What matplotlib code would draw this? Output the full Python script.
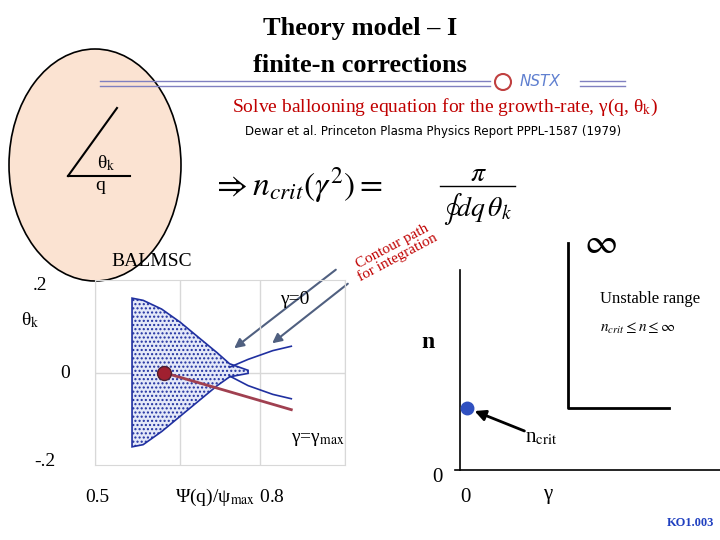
import matplotlib
matplotlib.use("Agg")
import matplotlib.pyplot as plt
from matplotlib.patches import Ellipse, FancyArrowPatch, Polygon
import numpy as np

plt.rcParams["mathtext.fontset"] = "stix"

# ---- data (schematic) ----
upper_x = [0.552, 0.57, 0.60, 0.63, 0.66, 0.69, 0.71, 0.74]
upper_y = [0.17, 0.165, 0.145, 0.115, 0.08, 0.045, 0.02, 0.005]
lower_x = [0.552, 0.57, 0.60, 0.63, 0.66, 0.69, 0.71, 0.74]
lower_y = [-0.17, -0.165, -0.135, -0.10, -0.065, -0.03, -0.01, -0.002]
branch_up_x = [0.71, 0.74, 0.78, 0.81]
branch_up_y = [0.012, 0.03, 0.05, 0.06]
branch_lo_x = [0.71, 0.74, 0.78, 0.81]
branch_lo_y = [-0.008, -0.03, -0.05, -0.06]
red_pt = (0.603, 0.0)
red_line_x = [0.603, 0.81]
red_line_y = [0.0, -0.085]

ncrit_pt = (0.0, 0.15)
unstable_x = [1.0, 1.0, 2.0]
unstable_y = [0.55, 0.15, 0.15]

fig = plt.figure(figsize=(7.2, 5.4), dpi=100)
ov = fig.add_axes([0, 0, 1, 1])
ov.set_xlim(0, 720); ov.set_ylim(540, 0); ov.axis("off")
serif = "Liberation Serif"

ov.text(360, 28, "Theory model – I", ha="center", va="center", fontsize=19, fontweight="bold", family=serif)
ov.text(360, 66, "finite-n corrections", ha="center", va="center", fontsize=19, fontweight="bold", family=serif)
for y in (81, 86):
    ov.plot([100, 490], [y, y], color="#8080c0", lw=1)
    ov.plot([580, 625], [y, y], color="#8080c0", lw=1)
ov.add_patch(Ellipse((503, 82), 16, 16, fill=False, ec="#c04040", lw=1.5))
ov.text(540, 82, "NSTX", ha="center", va="center", fontsize=11, color="#6080d0", style="italic")

ov.text(445, 107, r"Solve ballooning equation for the growth-rate, γ(q, θ$_\mathrm{k}$)",
        ha="center", va="center", fontsize=14, color="#c00000", family=serif)
ov.text(433, 131, "Dewar et al. Princeton Plasma Physics Report PPPL-1587 (1979)",
        ha="center", va="center", fontsize=8.5, family="Liberation Sans Narrow")

ov.add_patch(Ellipse((95, 165), 172, 232, fc="#fbe3d2", ec="black", lw=1.2))
ov.plot([117, 68], [108, 176], color="black", lw=1.5)
ov.plot([68, 130], [176, 176], color="black", lw=1.5)
ov.text(97, 163, r"θ$_\mathrm{k}$", fontsize=14, va="center", family=serif)
ov.text(100, 186, "q", fontsize=14, va="center", ha="center", family=serif)

ov.text(212, 185, r"$\Rightarrow n_{crit}(\gamma^2) = $", fontsize=24, va="center")
ov.text(478, 173, r"$\pi$", fontsize=20, ha="center", va="center")
ov.plot([440, 515], [186, 186], color="black", lw=1)
ov.text(478, 209, r"$\oint dq\,\theta_k$", fontsize=20, ha="center", va="center")

ov.text(395, 252, "Contour path\nfor integration", fontsize=11, color="#c00000", rotation=28,
        ha="center", va="center", family=serif, linespacing=0.9)

ov.text(152, 262, "BALMSC", fontsize=14, ha="center", va="center", family=serif)
ov.text(40, 286, ".2", fontsize=14, ha="center", va="center", family=serif)
ov.text(30, 320, r"θ$_\mathrm{k}$", fontsize=14, ha="center", va="center", family=serif)
ov.text(65, 373, "0", fontsize=14, ha="center", va="center", family=serif)
ov.text(45, 462, "-.2", fontsize=14, ha="center", va="center", family=serif)
ov.text(97, 497, "0.5", fontsize=14, ha="center", va="center", family=serif)
ov.text(230, 497, r"Ψ(q)/ψ$_\mathrm{max}$ 0.8", fontsize=14, ha="center", va="center", family=serif)
ov.text(295, 300, "γ=0", fontsize=14, ha="center", va="center", family=serif)
ov.text(318, 440, r"γ=γ$_\mathrm{max}$", fontsize=14, ha="center", va="center", family=serif)

ax = fig.add_axes([95/720, 1-465/540, 250/720, 185/540])
ax.set_xlim(0.492, 0.897); ax.set_ylim(-0.2115, 0.2115)
ax.set_xticks([0.492, 0.63, 0.76, 0.897]); ax.set_yticks([0.0])
ax.grid(True, color="#d8d8d8", lw=1)
ax.tick_params(length=0, labelbottom=False, labelleft=False)
for s in ax.spines.values(): s.set_color("#d8d8d8")
ax.patch.set_alpha(0)
px = list(upper_x) + list(lower_x[::-1])
py = list(upper_y) + list(lower_y[::-1])
ax.add_patch(Polygon(np.column_stack([px, py]), closed=True, fc="#e4e8f8", ec="#2030a0",
                     lw=1.2, hatch="....", zorder=2))
ax.plot(branch_up_x, branch_up_y, color="#2030a0", lw=1.2)
ax.plot(branch_lo_x, branch_lo_y, color="#2030a0", lw=1.2)
ax.plot(red_line_x, red_line_y, color="#a04050", lw=2)
ax.plot(*red_pt, "o", ms=10, color="#a02030", mec="#502030", zorder=5)

for (x0, y0, x1, y1) in [(338, 268, 232, 350), (350, 282, 270, 345)]:
    ov.add_patch(FancyArrowPatch((x0, y0), (x1, y1), arrowstyle="-|>", mutation_scale=14,
                                 color="#506080", lw=1.5))

# right plot
ov.plot([460, 460], [270, 470], color="black", lw=1.2)
ov.plot([455, 720], [470, 470], color="black", lw=1.2)
rx = [467 + 101 * v for v in unstable_x]
ry = [470 - 413 * v for v in unstable_y]
ov.plot(rx, ry, color="black", lw=2)
ov.text(600, 243, r"$\infty$", fontsize=26, ha="center", va="center")
ov.text(600, 299, "Unstable range", fontsize=12, va="center", family=serif)
ov.text(600, 328, r"$n_{crit}\leq n \leq \infty$", fontsize=11, va="center")
ov.text(428, 343, "n", fontsize=17, fontweight="bold", ha="center", va="center", family=serif)
ov.plot(467 + 101 * ncrit_pt[0], 470 - 413 * ncrit_pt[1], "o", ms=9, color="#3050c0")
ov.add_patch(FancyArrowPatch((527, 432), (472, 410), arrowstyle="-|>", mutation_scale=16, color="black", lw=2))
ov.text(525, 438, r"n$_\mathrm{crit}$", fontsize=15, va="center", family=serif)
ov.text(437, 477, "0", fontsize=15, ha="center", va="center", family=serif)
ov.text(465, 497, "0", fontsize=15, ha="center", va="center", family=serif)
ov.text(548, 495, "γ", fontsize=15, ha="center", va="center", family=serif)
ov.text(690, 523, "KO1.003", fontsize=9, fontweight="bold", color="#2040c0", ha="center", va="center", family=serif)

fig.savefig("out.png", dpi=100)
